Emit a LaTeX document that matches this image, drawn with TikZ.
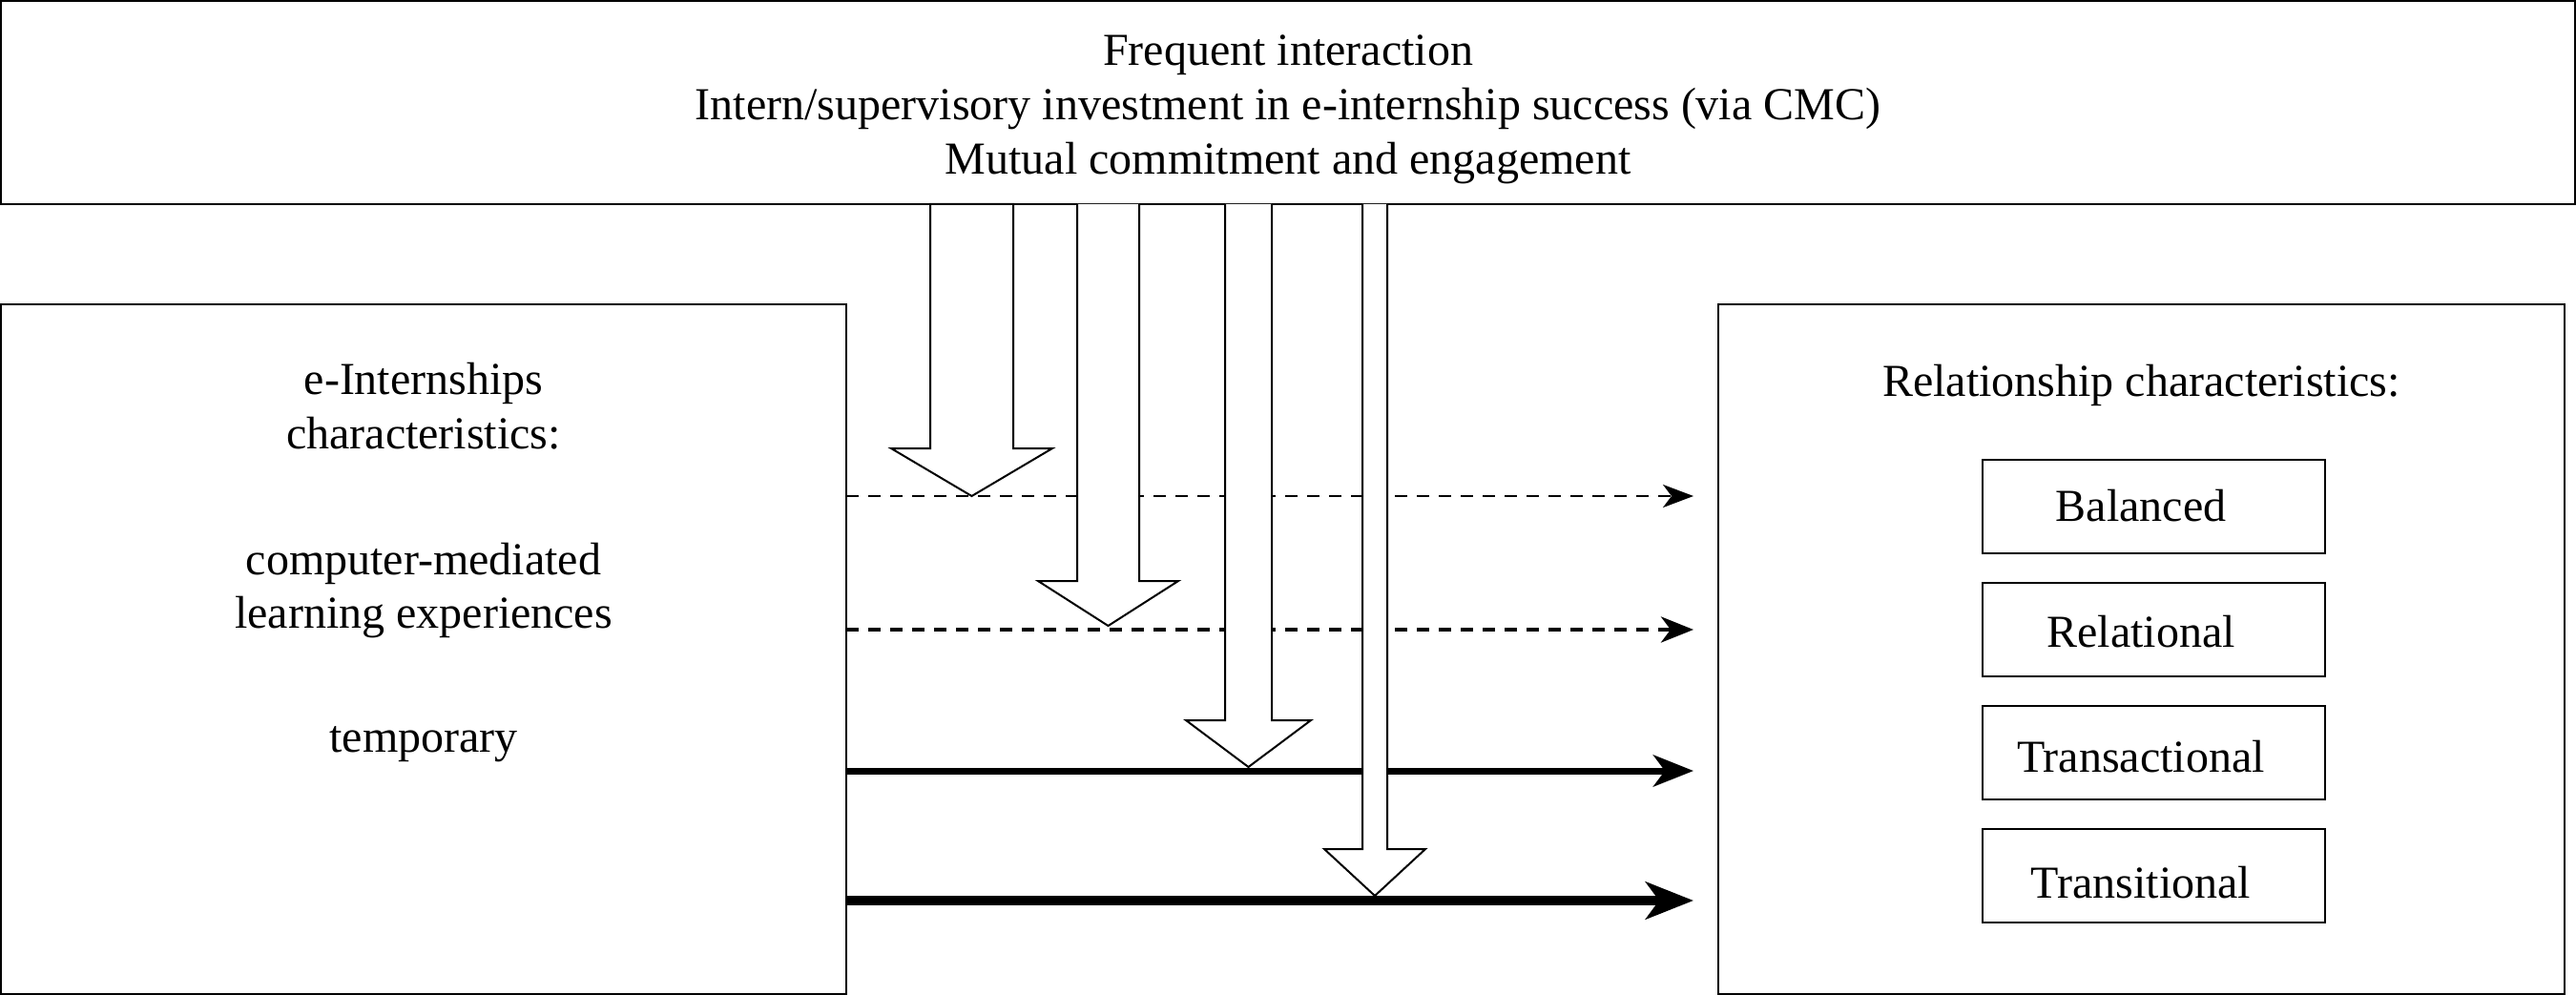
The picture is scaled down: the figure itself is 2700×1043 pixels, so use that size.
\documentclass[tikz,border=0pt]{standalone}
\usepackage{fontspec}
\setmainfont{Liberation Serif}
\usetikzlibrary{arrows.meta}
\begin{document}
\begin{tikzpicture}[x=1pt,y=-1pt,
  box/.style={draw,line width=2pt,inner sep=0pt,outer sep=0pt},
  txt/.style={font=\fontsize{48}{57}\selectfont,inner sep=0pt,anchor=base},
  blockarrow/.style={draw,fill=white,line width=2pt,line join=miter},
  lineA/.style={line width=2.5pt,dash pattern=on 13pt off 10pt,-{Stealth[length=32pt,width=24pt,inset=9pt]}},
  lineB/.style={line width=4.5pt,dash pattern=on 13pt off 10pt,-{Stealth[length=34pt,width=27pt,inset=10pt]}},
  lineC/.style={line width=7pt,-{Stealth[length=42pt,width=33pt,inset=12pt]}},
  lineD/.style={line width=9.5pt,-{Stealth[length=50pt,width=39pt,inset=14pt]}}]
\useasboundingbox (0,0) rectangle (2700,1043);
% boxes
\node[box,minimum width=2698,minimum height=213] (top) at (1350,107.5) {};
\node[box,minimum width=886,minimum height=723] (lbox) at (444,680.5) {};
\node[box,minimum width=887,minimum height=723] (rbox) at (2244.5,680.5) {};
\node[box,minimum width=359,minimum height=98] (b1) at (2257.5,531) {};
\node[box,minimum width=359,minimum height=98] (b2) at (2257.5,660) {};
\node[box,minimum width=359,minimum height=98] (b3) at (2257.5,789) {};
\node[box,minimum width=359,minimum height=98] (b4) at (2257.5,918) {};
% top texts
\node[txt] (t1) at (1350,69) {Frequent interaction};
\node[txt] (t2) at (1350,126) {Intern/supervisory investment in e-internship success (via CMC)};
\node[txt] (t3) at (1350,183) {Mutual commitment and engagement};
% left texts
\node[txt] (l1) at (444,413) {e-Internships};
\node[txt] (l2) at (444,470) {characteristics:};
\node[txt] (l3) at (444,602) {computer-mediated};
\node[txt] (l4) at (444,658) {learning experiences};
\node[txt] (l5) at (444,788) {temporary};
% right texts
\node[txt] (r0) at (2244.5,415) {Relationship characteristics:};
\node[txt] (r1) at (2244,546) {Balanced};
\node[txt] (r2) at (2244,678) {Relational};
\node[txt] (r3) at (2244,809.5) {Transactional};
\node[txt] (r4) at (2244,941) {Transitional};
% horizontal arrows
\coordinate (e1) at (1775,520);
\coordinate (e2) at (1775,660);
\coordinate (e3) at (1775,808);
\coordinate (e4) at (1775,944);
\draw[lineA] (lbox.east |- e1) -- (e1);
\draw[lineB] (lbox.east |- e2) -- (e2);
\draw[lineC] (lbox.east |- e3) -- (e3);
\draw[lineD] (lbox.east |- e4) -- (e4);
% vertical block arrows
\draw[blockarrow] (975,214) -- (975,470) -- (934,470) -- (1018.5,520) -- (1103,470) -- (1062,470) -- (1062,214) -- cycle;
\draw[blockarrow] (1129,214) -- (1129,609) -- (1088,609) -- (1161.5,656) -- (1235,609) -- (1194,609) -- (1194,214);
\draw[blockarrow] (1284,214) -- (1284,755) -- (1243,755) -- (1308.5,804) -- (1374,755) -- (1333,755) -- (1333,214);
\draw[blockarrow] (1428,214) -- (1428,890) -- (1388,890) -- (1441,939) -- (1494,890) -- (1454,890) -- (1454,214);
\end{tikzpicture}
\end{document}
